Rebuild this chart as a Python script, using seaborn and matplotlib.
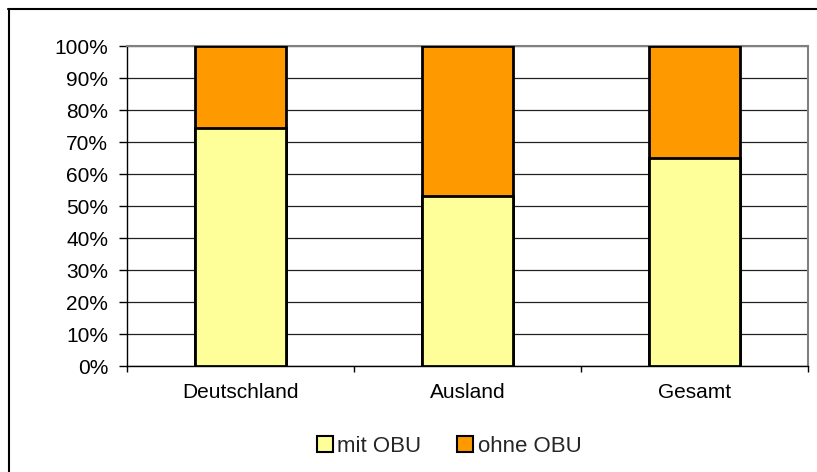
import matplotlib
matplotlib.use("Agg")
import matplotlib.pyplot as plt
import seaborn as sns
import pandas as pd
from matplotlib.patches import Patch
from matplotlib.lines import Line2D
from matplotlib.ticker import FixedLocator

categories = ["Deutschland", "Ausland", "Gesamt"]
mit_obu = [74.5, 53.0, 65.0]
ohne_obu = [25.5, 47.0, 35.0]
series_names = ["mit OBU", "ohne OBU"]
y_ticks = [0, 10, 20, 30, 40, 50, 60, 70, 80, 90, 100]
y_tick_labels = [f"{v}%" for v in y_ticks]

yellow = "#FFFF99"
orange = "#FF9900"

sns.set_theme(style="white")
plt.rcParams["font.family"] = ["Liberation Sans", "DejaVu Sans"]

df = pd.DataFrame({"cat": categories, "mit": mit_obu,
                   "total": [m + o for m, o in zip(mit_obu, ohne_obu)]})

fig = plt.figure(figsize=(8.17, 4.72), dpi=100)
ax = fig.add_axes([127 / 817, 1 - 366 / 472, (808 - 127) / 817, (366 - 46) / 472])

sns.barplot(data=df, x="cat", y="total", color=orange, width=0.405,
            edgecolor="black", linewidth=2.0, saturation=1, ax=ax, zorder=3)
sns.barplot(data=df, x="cat", y="mit", color=yellow, width=0.405,
            edgecolor="black", linewidth=2.0, saturation=1, ax=ax, zorder=4)

ax.set_xlim(-0.5, 2.5)
ax.set_ylim(0, 100)
ax.set_xlabel("")
ax.set_ylabel("")
ax.set_yticks(y_ticks)
ax.set_yticklabels(y_tick_labels, fontsize=15, color="black")
ax.yaxis.grid(True, color="#222222", linewidth=0.9, zorder=0)
ax.set_axisbelow(True)

ax.set_xticks(range(len(categories)))
ax.set_xticklabels(categories, fontsize=15, color="black")
ax.xaxis.set_minor_locator(FixedLocator([-0.5, 0.5, 1.5, 2.5]))
ax.tick_params(axis="x", which="major", length=0, pad=12)
ax.tick_params(axis="x", which="minor", length=4, width=1, color="black",
               direction="out", bottom=True)
ax.tick_params(axis="y", which="major", length=6, width=1, color="black",
               direction="out", left=True, pad=7.5)

for side in ["left", "bottom"]:
    ax.spines[side].set_color("black")
    ax.spines[side].set_linewidth(1.0)
for side in ["top", "right"]:
    ax.spines[side].set_color("#808080")
    ax.spines[side].set_linewidth(1.5)

handles = [Patch(facecolor=yellow, edgecolor="black", linewidth=1.5),
           Patch(facecolor=orange, edgecolor="black", linewidth=1.5)]
fig.legend(handles, series_names, loc="center", bbox_to_anchor=(449 / 817, 1 - 446 / 472),
           ncol=2, frameon=False, fontsize=16, handlelength=0.73, handleheight=0.73,
           handletextpad=0.2, columnspacing=1.6, borderpad=0, borderaxespad=0)

# figure border (left and top edges visible)
fig.add_artist(Line2D([8.5 / 817, 8.5 / 817], [0, 1 - 9 / 472], transform=fig.transFigure,
                      color="black", linewidth=1.5))
fig.add_artist(Line2D([8 / 817, 1], [1 - 9 / 472, 1 - 9 / 472], transform=fig.transFigure,
                      color="black", linewidth=1.5))

fig.savefig("out.png", dpi=100)
